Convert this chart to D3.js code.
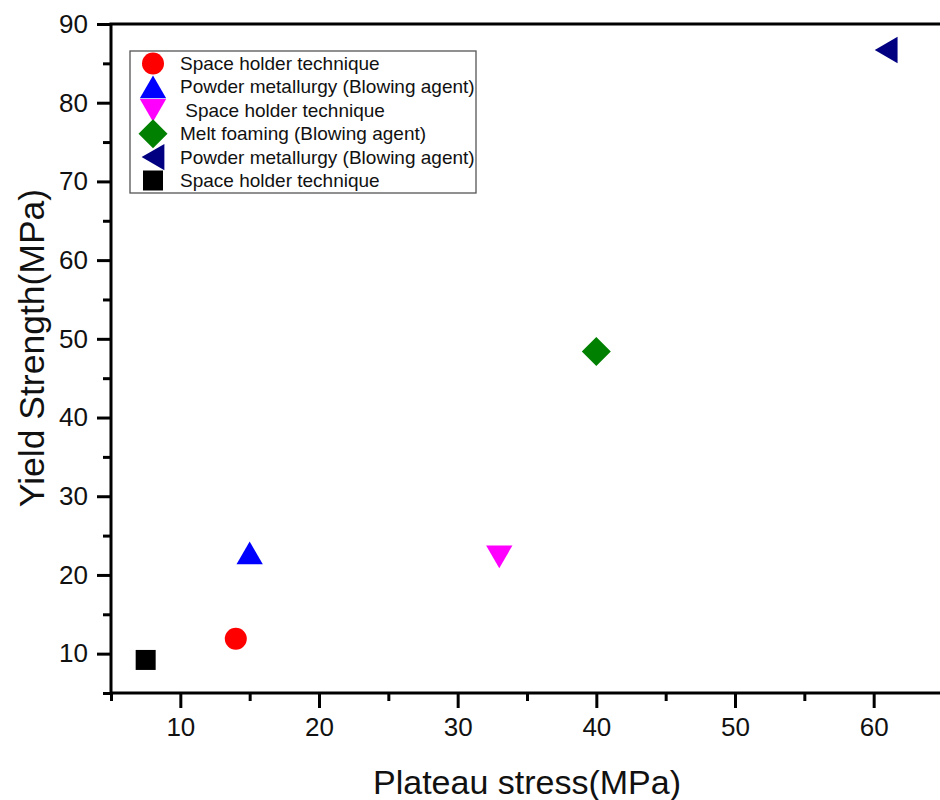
<!DOCTYPE html>
<html>
<head>
<meta charset="utf-8">
<script src="https://cdn.jsdelivr.net/npm/d3@7"></script>
<style>
  body { margin: 0; background: #fff; }
  svg { display: block; font-family: "Liberation Sans", Arial, sans-serif; }
</style>
</head>
<body>
<div id="viz"></div>
<script>
// Données
const labels = [
  'Space holder technique',
  'Powder metallurgy (Blowing agent)',
  ' Space holder technique',
  'Melt foaming (Blowing agent)',
  'Powder metallurgy (Blowing agent)',
  'Space holder technique'
];
const plateauStress = [14, 15, 33, 40, 60.9, 7.5];
const yieldStrength = [11.9, 22.8, 22.3, 48.4, 86.7, 9.2];
const colors = ['#ff0000', '#0000ff', '#ff00ff', '#008000', '#000080', '#000000'];
const shapes = ['circle', 'up', 'down', 'diamond', 'left', 'square'];

const xTicks = [10, 20, 30, 40, 50, 60];
const xMinor = [5, 15, 25, 35, 45, 55];
const yTicks = [10, 20, 30, 40, 50, 60, 70, 80, 90];
const yMinor = [5, 15, 25, 35, 45, 55, 65, 75, 85];

const config = {
  width: 940,
  height: 800,
  left: 111,
  right: 943,
  top: 24,
  bottom: 693
};

const svg = d3.select('#viz').append('svg')
  .attr('width', config.width)
  .attr('height', config.height);

const x = d3.scaleLinear().domain([5, 65]).range([config.left, config.right]);
const y = d3.scaleLinear().domain([5, 90]).range([config.bottom, config.top]);

// triangle centré sur sa boîte, comme dans Origin
const triangleBox = {
  draw(context, size) {
    const s = Math.sqrt(size * 4 / Math.sqrt(3));
    const h = s * Math.sqrt(3) / 2;
    context.moveTo(0, -h / 2);
    context.lineTo(s / 2, h / 2);
    context.lineTo(-s / 2, h / 2);
    context.closePath();
  }
};

/**
 * Returns path + rotation for a marker shape
 */
function marker(shape) {
  if (shape === 'circle') return { path: d3.symbol(d3.symbolCircle, 380)(), rot: 0 };
  if (shape === 'square') return { path: d3.symbol(d3.symbolSquare, 400)(), rot: 0 };
  if (shape === 'diamond') return { path: d3.symbol(d3.symbolSquare, 420)(), rot: 45 };
  const rot = shape === 'up' ? 0 : (shape === 'down' ? 180 : -90);
  return { path: d3.symbol(triangleBox, 300)(), rot: rot };
}

// Cadre
svg.append('rect')
  .attr('x', config.left)
  .attr('y', config.top)
  .attr('width', config.right - config.left)
  .attr('height', config.bottom - config.top)
  .attr('fill', 'none')
  .attr('stroke', '#000')
  .attr('stroke-width', 3);

// Axe X
svg.append('g')
  .attr('transform', `translate(0,${config.bottom})`)
  .call(d3.axisBottom(x).tickValues(xTicks).tickSize(15).tickPadding(10).tickSizeOuter(0));
svg.append('g')
  .attr('transform', `translate(0,${config.bottom})`)
  .call(d3.axisBottom(x).tickValues(xMinor).tickSize(8).tickFormat('').tickSizeOuter(0));

// Axe Y
svg.append('g')
  .attr('transform', `translate(${config.left},0)`)
  .call(d3.axisLeft(y).tickValues(yTicks).tickSize(14).tickPadding(9).tickSizeOuter(0));
svg.append('g')
  .attr('transform', `translate(${config.left},0)`)
  .call(d3.axisLeft(y).tickValues(yMinor).tickSize(8).tickFormat('').tickSizeOuter(0));

svg.selectAll('.domain').attr('stroke', 'none');
svg.selectAll('.tick line').attr('stroke', '#000').attr('stroke-width', 3);
svg.selectAll('.tick text')
  .attr('font-size', 26)
  .attr('font-family', '"Liberation Sans", Arial, sans-serif')
  .attr('fill', '#111');

// Titres des axes
svg.append('text')
  .text('Plateau stress(MPa)')
  .attr('x', (config.left + config.right) / 2)
  .attr('y', 794)
  .attr('text-anchor', 'middle')
  .attr('font-size', 34)
  .attr('fill', '#111');

svg.append('text')
  .text('Yield Strength(MPa)')
  .attr('transform', 'translate(44,348) rotate(-90)')
  .attr('text-anchor', 'middle')
  .attr('font-size', 35.5)
  .attr('fill', '#111');

// Points
svg.append('g')
  .selectAll('path')
  .data(labels)
  .enter().append('path')
  .attr('d', (d, i) => marker(shapes[i]).path)
  .attr('transform', (d, i) => `translate(${x(plateauStress[i])},${y(yieldStrength[i])}) rotate(${marker(shapes[i]).rot})`)
  .attr('fill', (d, i) => colors[i]);

// Légende
const legend = svg.append('g').attr('class', 'legend');
legend.append('rect')
  .attr('x', 130)
  .attr('y', 51)
  .attr('width', 346)
  .attr('height', 142)
  .attr('fill', '#fff')
  .attr('stroke', '#555')
  .attr('stroke-width', 1.3);

const cells = legend.selectAll('.cell')
  .data(labels)
  .enter().append('g')
  .attr('class', 'cell')
  .attr('transform', (d, i) => `translate(153,${63.5 + 23.4 * i})`);

cells.append('path')
  .attr('d', (d, i) => marker(shapes[i]).path)
  .attr('transform', (d, i) => `rotate(${marker(shapes[i]).rot})`)
  .attr('fill', (d, i) => colors[i]);

cells.append('text')
  .text(d => d)
  .attr('x', 27)
  .attr('dominant-baseline', 'central')
  .attr('font-size', 19)
  .attr('fill', '#111')
  .style('white-space', 'pre');
</script>
</body>
</html>
